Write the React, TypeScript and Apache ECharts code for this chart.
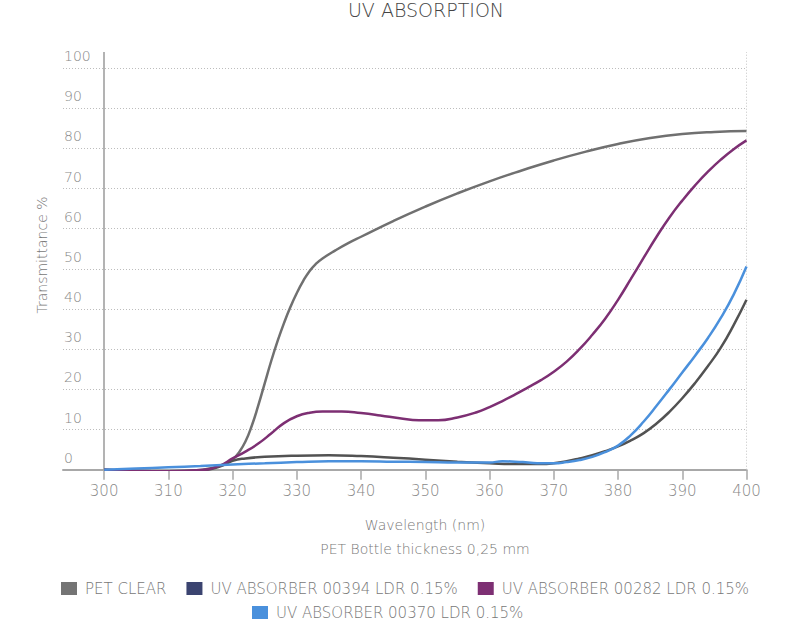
import React, { useEffect, useRef } from "react";
import * as echarts from "echarts";

const chartTitle = "UV ABSORPTION";
const xAxisName = "Wavelength (nm)";
const xAxisSubName = "PET Bottle thickness 0,25 mm";
const yAxisName = "Transmittance %";

const seriesNames = [
  "PET CLEAR",
  "UV ABSORBER 00394 LDR 0.15%",
  "UV ABSORBER 00282 LDR 0.15%",
  "UV ABSORBER 00370 LDR 0.15%",
];

const xTicks = [300, 310, 320, 330, 340, 350, 360, 370, 380, 390, 400];
const yTicks = [0, 10, 20, 30, 40, 50, 60, 70, 80, 90, 100];

const petClearNm = [300, 305, 310, 314, 317, 319, 320, 321, 322, 323, 324, 325, 326, 327, 328, 329, 330, 331, 332, 333, 334, 336, 338, 340, 345, 350, 355, 360, 365, 370, 375, 380, 385, 390, 395, 400];
const petClearT = [0, -0.3, -0.4, -0.2, 0.5, 1.5, 2.5, 4.3, 7, 11, 16, 21.5, 27, 32, 36.5, 40.5, 44, 47, 49.5, 51.3, 52.6, 54.6, 56.4, 58, 61.9, 65.5, 68.8, 71.8, 74.5, 77, 79.2, 81.1, 82.6, 83.6, 84.1, 84.3];

const abs394Nm = [300, 305, 310, 315, 318, 320, 322, 325, 330, 335, 340, 345, 350, 355, 360, 365, 368, 370, 372, 374, 376, 378, 380, 382, 384, 386, 388, 390, 392, 394, 396, 398, 400];
const abs394T = [0, -0.3, -0.4, -0.2, 0.8, 2.2, 2.8, 3.2, 3.5, 3.6, 3.4, 3, 2.5, 2, 1.6, 1.4, 1.4, 1.6, 2.1, 2.8, 3.6, 4.6, 5.8, 7.3, 9.1, 11.5, 14.4, 17.8, 21.6, 25.8, 30.4, 36, 42.3];

const abs282Nm = [300, 305, 310, 315, 318, 320, 322, 324, 326, 328, 330, 332, 334, 337, 340, 343, 346, 349, 352, 355, 358, 360, 362, 364, 366, 368, 370, 372, 374, 376, 378, 380, 382, 384, 386, 388, 390, 392, 394, 396, 398, 400];
const abs282T = [0, -0.3, -0.4, -0.1, 1, 2.8, 4.5, 6.5, 9, 11.6, 13.3, 14.2, 14.5, 14.5, 14.1, 13.5, 12.8, 12.3, 12.3, 13, 14.3, 15.6, 17.1, 18.75, 20.5, 22.3, 24.4, 26.9, 30, 33.6, 37.6, 42.3, 47.5, 52.8, 58, 62.8, 67, 70.8, 74.2, 77.2, 79.8, 82];

const abs370Nm = [300, 305, 310, 315, 320, 325, 330, 335, 340, 345, 350, 355, 360, 362, 364, 366, 368, 370, 372, 374, 376, 378, 380, 382, 384, 386, 388, 390, 392, 394, 396, 398, 400];
const abs370T = [0, 0.3, 0.6, 0.9, 1.3, 1.6, 1.9, 2.1, 2.1, 2, 1.9, 1.8, 1.8, 2.1, 2, 1.8, 1.6, 1.6, 1.9, 2.4, 3.2, 4.4, 6, 8.6, 12, 15.9, 20, 24.2, 28.4, 32.8, 37.8, 43.6, 50.6];

const lineColors = ["#707070", "#525252", "#7d2f73", "#4a90dc"];
const legendColors = ["#747474", "#3b4470", "#7d2f73", "#4a90dc"];

const FONT = "DejaVu Sans";

function pairs(xs: number[], ys: number[]) {
  return xs.map((x, i) => [x, ys[i]]);
}

export default function App() {
  const ref = useRef<HTMLDivElement>(null);

  useEffect(() => {
    if (!ref.current) return;
    const chart = echarts.init(ref.current, undefined, { renderer: "svg" });

    const seriesData = [
      pairs(petClearNm, petClearT),
      pairs(abs394Nm, abs394T),
      pairs(abs282Nm, abs282T),
      pairs(abs370Nm, abs370T),
    ];

    const series: any[] = seriesNames.map((name, i) => ({
      name,
      type: "line",
      data: seriesData[i],
      smooth: 0.5,
      showSymbol: false,
      symbol: "none",
      lineStyle: { color: lineColors[i], width: 2.5 },
      itemStyle: { color: lineColors[i] },
      z: 3,
    }));

    series[0].markLine = {
      silent: true,
      symbol: "none",
      label: { show: false },
      z: 1,
      data: [
        { xAxis: 300, lineStyle: { color: "#9a9a9a", width: 1.5, type: "solid" } },
        { xAxis: 400, lineStyle: { color: "#c4c4c4", width: 1, type: [1, 2] } },
      ],
    };

    const legendText = {
      color: "#777",
      fontSize: 15,
      fontFamily: FONT,
      fontWeight: 200,
      padding: [0, 0, 0, 3],
    };

    const textStyle = (size: number, color: string) => ({
      fill: color,
      fontSize: size,
      fontFamily: FONT,
      fontWeight: 200,
      align: "center",
      verticalAlign: "middle",
    });

    chart.setOption({
      animation: false,
      grid: { left: 63, right: 53.5, top: 52, bottom: 155.3, containLabel: false },
      xAxis: {
        type: "value",
        min: 293.6,
        max: 400,
        axisLine: { show: true, lineStyle: { color: "#a8a8a8", width: 2 } },
        axisTick: { show: true, length: 10, customValues: xTicks, lineStyle: { color: "#a8a8a8", width: 1.5 } },
        axisLabel: {
          customValues: xTicks,
          margin: 14,
          color: "#888",
          fontSize: 15,
          fontFamily: FONT,
          fontWeight: 200,
        },
        splitLine: { show: false },
      },
      yAxis: {
        type: "value",
        min: 0,
        max: 104,
        axisLine: { show: false },
        axisTick: { show: false, customValues: yTicks },
        axisLabel: {
          customValues: yTicks,
          inside: true,
          margin: 1,
          verticalAlign: "bottom",
          padding: [0, 0, 5, 0],
          color: "#888",
          fontSize: 14,
          fontFamily: FONT,
          fontWeight: 200,
        },
        splitLine: { show: true, lineStyle: { color: "#bdbdbd", width: 1, type: [1, 2] } },
      },
      legend: [
        {
          data: seriesNames.slice(0, 3).map((n, i) => ({ name: n, itemStyle: { color: legendColors[i] } })),
          left: 56,
          top: 576,
          icon: "rect",
          itemWidth: 16,
          itemHeight: 13,
          itemGap: 20,
          textStyle: legendText,
          selectedMode: false,
        },
        {
          data: [{ name: seriesNames[3], itemStyle: { color: legendColors[3] } }],
          left: 247,
          top: 600,
          icon: "rect",
          itemWidth: 16,
          itemHeight: 13,
          textStyle: legendText,
          selectedMode: false,
        },
      ],
      graphic: [
        {
          type: "text",
          x: 426,
          y: 10,
          style: { text: chartTitle, ...textStyle(19, "#444") },
        },
        {
          type: "text",
          x: 425,
          y: 525,
          style: { text: xAxisName, ...textStyle(14, "#777") },
        },
        {
          type: "text",
          x: 425,
          y: 549,
          style: { text: xAxisSubName, ...textStyle(14, "#777") },
        },
        {
          type: "text",
          x: 42,
          y: 255,
          rotation: Math.PI / 2,
          style: { text: yAxisName, ...textStyle(14, "#777") },
        },
      ],
      series,
    });

    return () => chart.dispose();
  }, []);

  return (
    <div
      ref={ref}
      style={{ position: "fixed", left: 0, top: 0, width: 800, height: 625, background: "#fff" }}
    />
  );
}
